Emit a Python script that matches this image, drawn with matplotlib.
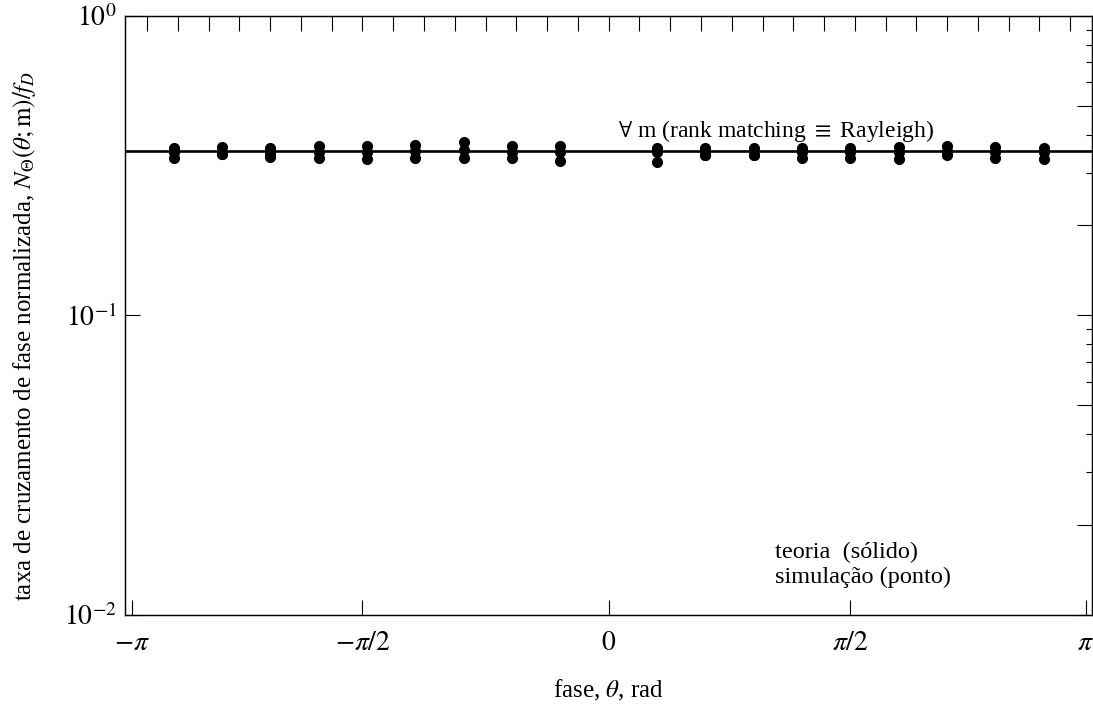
import numpy as np
import matplotlib
matplotlib.use("Agg")
import matplotlib.pyplot as plt
from matplotlib.ticker import FixedLocator, NullLocator, NullFormatter, FixedFormatter

plt.rcParams['font.family'] = ['Liberation Serif', 'DejaVu Serif']
plt.rcParams['mathtext.fontset'] = 'stix'

# ---- data ----
k_steps = [-9, -8, -7, -6, -5, -4, -3, -2, -1, 1, 2, 3, 4, 5, 6, 7, 8, 9]
theta_sim = [k * np.pi / 10 for k in k_steps]
sim_upper = [0.363, 0.366, 0.362, 0.368, 0.368, 0.372, 0.378, 0.368, 0.368,
             0.362, 0.362, 0.362, 0.362, 0.362, 0.365, 0.369, 0.365, 0.362]
sim_middle = [0.352, 0.346, 0.346, 0.352, 0.352, 0.355, 0.358, 0.352, 0.350,
              0.350, 0.344, 0.344, 0.350, 0.350, 0.352, 0.355, 0.350, 0.350]
sim_lower = [0.336, 0.346, 0.339, 0.335, 0.333, 0.336, 0.336, 0.336, 0.329,
             0.326, 0.344, 0.344, 0.336, 0.336, 0.334, 0.342, 0.336, 0.334]
theory_x = [-np.pi, np.pi]
theory_y = [1 / (2 * np.sqrt(2)), 1 / (2 * np.sqrt(2))]

xtick_pos = [-3.1, -1.6, 0, 1.57, 3.1]
xtick_labels = [r'$-\pi$', r'$-\pi/2$', r'$0$', r'$\pi/2$', r'$\pi$']
top_ticks = [round(v, 1) for v in np.arange(-3.0, 3.01, 0.2)]
ytick_pos = [1e-2, 1e-1, 1e0]
ytick_labels = [r'$10^{-2}$', r'$10^{-1}$', r'$10^{0}$']
right_major = [0.01, 0.02, 0.05, 0.1, 0.2, 0.5, 1.0]
right_minor = [m * d for d in (0.01, 0.1) for m in (3, 4, 6, 7, 8, 9)]

FS_TICK = 20
FS_LABEL = 18
FS_TEXT = 17.5

fig = plt.figure(figsize=(10.93, 7.04), dpi=100)
ax = fig.add_axes([0.1146, 0.1268, 0.8845, 0.8505])

ax.plot(theory_x, theory_y, color='black', lw=1.9, zorder=2)
for series in (sim_upper, sim_middle, sim_lower):
    ax.plot(theta_sim, series, 'o', color='black', ms=7, mec='black', zorder=3)

ax.set_yscale('log')
ax.set_xlim(-np.pi, np.pi)
ax.set_ylim(1e-2, 1e0)

ax.xaxis.set_major_locator(FixedLocator(xtick_pos))
ax.xaxis.set_major_formatter(FixedFormatter(xtick_labels))
ax.xaxis.set_minor_locator(NullLocator())
ax.yaxis.set_major_locator(FixedLocator(ytick_pos))
ax.yaxis.set_major_formatter(FixedFormatter(ytick_labels))
ax.yaxis.set_minor_locator(NullLocator())
ax.tick_params(axis='both', which='major', direction='in', length=11, width=0.8,
               labelsize=FS_TICK, top=False, right=False)
ax.tick_params(axis='x', pad=12)
ax.tick_params(axis='y', pad=6)

for s in ax.spines.values():
    s.set_linewidth(0.9)

# top ticks
axt = ax.twiny()
axt.set_xlim(ax.get_xlim())
axt.xaxis.set_major_locator(FixedLocator(top_ticks))
axt.xaxis.set_major_formatter(NullFormatter())
axt.xaxis.set_minor_locator(NullLocator())
axt.tick_params(axis='x', which='major', direction='in', length=11, width=0.8,
                top=True, bottom=False, labeltop=False)
axt.tick_params(axis='y', left=False, right=False, labelleft=False)

# right ticks
axr = ax.twinx()
axr.set_yscale('log')
axr.set_ylim(ax.get_ylim())
axr.yaxis.set_major_locator(FixedLocator(right_major))
axr.yaxis.set_major_formatter(NullFormatter())
axr.yaxis.set_minor_locator(FixedLocator(right_minor))
axr.yaxis.set_minor_formatter(NullFormatter())
axr.tick_params(axis='y', which='major', direction='in', length=11, width=0.8,
                right=True, left=False, labelright=False)
axr.tick_params(axis='y', which='minor', direction='in', length=4, width=0.8,
                right=True, left=False, labelright=False)

ax.set_xlabel(r'fase, $\theta$, rad', fontsize=FS_LABEL)
ax.xaxis.set_label_coords(0.5, -0.105)
ax.set_ylabel(r'taxa de cruzamento de fase normalizada, $N_{\Theta}(\theta;\mathrm{m})/f_D$',
              fontsize=FS_LABEL)
ax.yaxis.set_label_coords(-0.09, 0.465)

ax.text(0.06, 0.395, r'$\forall$ m (rank matching $\equiv$ Rayleigh)', fontsize=17,
        va='baseline', ha='left')
ax.text(1.078, 0.0155, 'teoria  (sólido)', fontsize=FS_TEXT, va='baseline', ha='left')
ax.text(1.078, 0.0128, 'simulação (ponto)', fontsize=FS_TEXT, va='baseline', ha='left')

fig.savefig('out.png', dpi=100)
